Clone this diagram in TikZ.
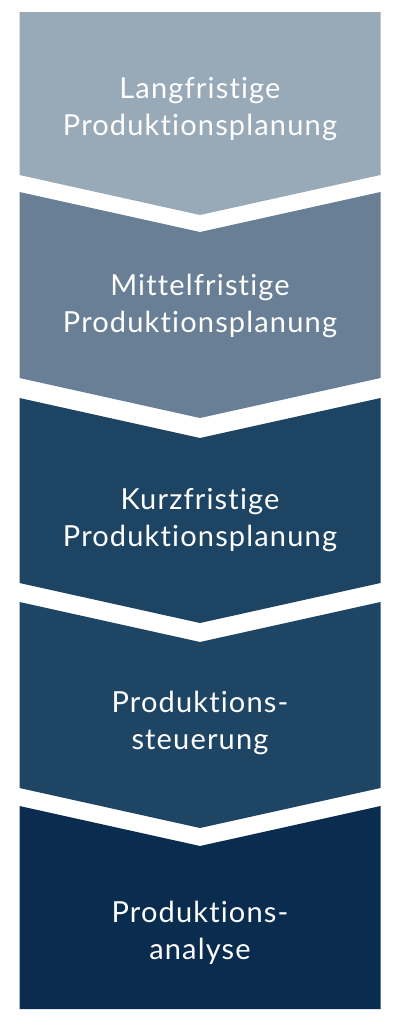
\documentclass[tikz,border=0pt]{standalone}
\usepackage{fontspec}
\setmainfont{Lato}[LetterSpace=4, Ligatures={NoCommon}]
\definecolor{cA}{HTML}{98A9B8}
\definecolor{cB}{HTML}{687F95}
\definecolor{cC}{HTML}{1E4464}
\definecolor{cD}{HTML}{1F4565}
\definecolor{cE}{HTML}{0A2C4E}
\tikzset{
  lbl/.style={text=white, align=center, font=\fontsize{29}{37}\selectfont, inner sep=0pt}
}
\begin{document}
\begin{tikzpicture}[x=1pt,y=-1pt]
\useasboundingbox (0,0) rectangle (400,1028);
% chevrons: L=19.5, R=380.5, C=200
\fill[cA] (19.5,12) -- (380.5,12) -- (380.5,175) -- (200,215) -- (19.5,175) -- cycle;
\fill[cB] (19.5,192) -- (200,232) -- (380.5,192) -- (380.5,378) -- (200,418) -- (19.5,378) -- cycle;
\fill[cC] (19.5,398) -- (200,438) -- (380.5,398) -- (380.5,583) -- (200,623) -- (19.5,583) -- cycle;
\fill[cD] (19.5,602) -- (200,642) -- (380.5,602) -- (380.5,788) -- (200,828) -- (19.5,788) -- cycle;
\fill[cE] (19.5,806) -- (200,846) -- (380.5,806) -- (380.5,1009) -- (19.5,1009) -- cycle;
\node[lbl] (t1) at (200,109) {Langfristige\\Produktionsplanung};
\node[lbl] (t2) at (200,306) {Mittelfristige\\Produktionsplanung};
\node[lbl] (t3) at (200,520) {Kurzfristige\\Produktionsplanung};
\node[lbl] (t4) at (200,723) {Produktions-\\steuerung};
\node[lbl] (t5) at (200,933) {Produktions-\\analyse};
\end{tikzpicture}
\end{document}
